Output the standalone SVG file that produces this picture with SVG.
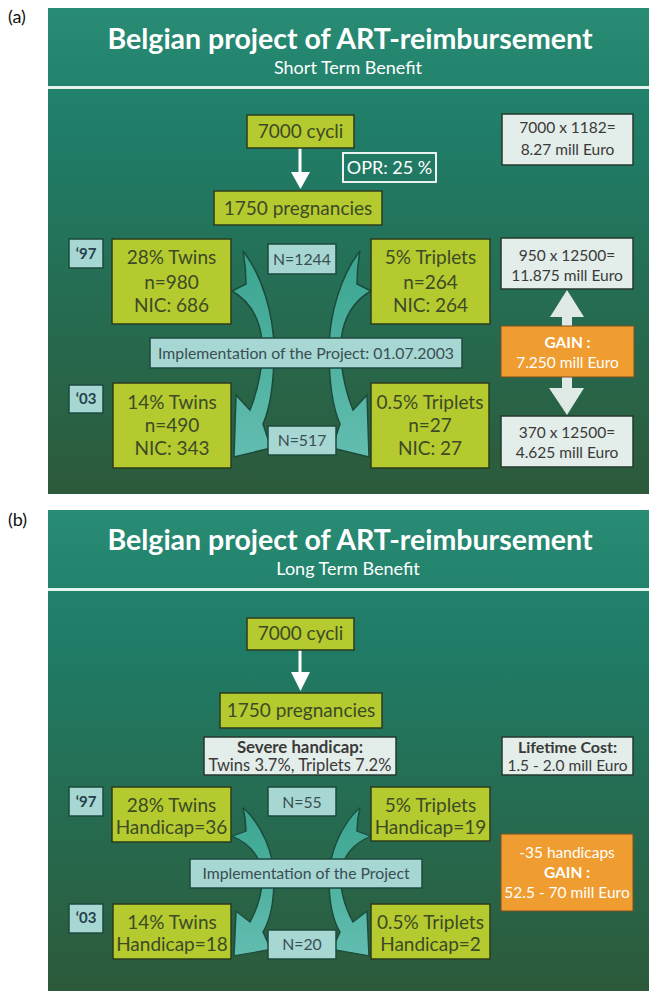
<svg xmlns="http://www.w3.org/2000/svg" width="649" height="991" viewBox="0 0 649 991">
<defs>
<linearGradient id="bgA" x1="0" y1="0" x2="0" y2="1">
<stop offset="0" stop-color="#298c74"/>
<stop offset="0.25" stop-color="#1f7d68"/>
<stop offset="1" stop-color="#2c5a3a"/>
</linearGradient>
<linearGradient id="arr" x1="0" y1="0" x2="0" y2="1">
<stop offset="0" stop-color="#3aa58f"/>
<stop offset="1" stop-color="#62bdb0"/>
</linearGradient>
<path id="curve" d="M243 251 C262 275 274 315 274 350 C274 385 270 408 263 424 L271 448 L234 457 L236 395 L250 410 C258 390 264 362 262 340 C259 315 248 300 232 291 L246 284 C246 272 245 262 243 251 Z"/>
</defs>
<style>
text{font-family:Lato,"Open Sans","Liberation Sans",sans-serif}
.title{font-weight:bold;font-size:28.5px;fill:#ffffff;text-anchor:middle}
.sub{font-size:18px;fill:#ffffff;text-anchor:middle}
.lbl{font-size:18px;fill:#111111}
.g rect{fill:#b4ca2f;stroke:#2b3b1c;stroke-width:1.5}
.g text{font-size:19px;fill:#3c4a26;text-anchor:middle}
.b rect{fill:#a6d7d2;stroke:#1d4a3e;stroke-width:1.5}
.b text{font-size:15.8px;fill:#3a4e52;text-anchor:middle}
.yr text{font-weight:bold;font-size:15px;fill:#263f4c}
.w rect{fill:#e3ede9;stroke:#26382e;stroke-width:1.5}
.w text{font-size:15.5px;fill:#3a3a3a;text-anchor:middle}
.w .bd{font-weight:bold;font-size:16px}
.w .big{font-size:16.5px}
.w .bigb{font-weight:bold;font-size:16.8px}
.o rect{fill:#ef9c30;stroke:#7a5020;stroke-width:1}
.o text{font-size:15.5px;fill:#ffffff;text-anchor:middle}
.o .bd{font-weight:bold}
.opr rect{fill:none;stroke:#ffffff;stroke-width:1.8}
.opr text{font-size:18px;fill:#ffffff;text-anchor:middle}
.cv{fill:url(#arr);stroke:#1d4a3a;stroke-width:1.5}
.wa{fill:#ffffff}
.la{fill:#dfeae6}
</style>
<rect width="649" height="991" fill="#ffffff"/>
<text class="lbl" x="8" y="23">(a)</text>
<text class="lbl" x="8" y="526">(b)</text>

<g id="panelA">
<rect x="48" y="8" width="601" height="486" fill="url(#bgA)"/>
<rect x="48" y="86" width="601" height="3" fill="#e6f3ec"/>
<text class="title" x="350" y="49">Belgian project of ART-reimbursement</text>
<text class="sub" x="348" y="74">Short Term Benefit</text>
</g>
<g id="panelB">
<rect x="48" y="510" width="601" height="481" fill="url(#bgA)"/>
<rect x="48" y="588" width="601" height="3" fill="#e6f3ec"/>
<text class="title" x="350" y="550">Belgian project of ART-reimbursement</text>
<text class="sub" x="348" y="575">Long Term Benefit</text>
</g>

<g id="connectors">
<use href="#curve" class="cv"/>
<use href="#curve" class="cv" transform="translate(603,0) scale(-1,1)"/>
<use href="#curve" class="cv" transform="translate(0,626.8) scale(1,0.72)"/>
<use href="#curve" class="cv" transform="translate(603,626.8) scale(-1,0.72)"/>
<rect class="wa" x="298.5" y="148" width="3" height="26"/>
<polygon class="wa" points="291,172 310,172 300.5,189"/>
<rect class="wa" x="298.5" y="650" width="3" height="24"/>
<polygon class="wa" points="291,672 310,672 300.5,691"/>
<rect class="la" x="562" y="316" width="10" height="11"/>
<polygon class="la" points="550,317 584,317 567,290"/>
<rect class="la" x="562" y="377" width="10" height="12"/>
<polygon class="la" points="549,388 584,388 567,415"/>
</g>

<g id="a-cycli" class="g"><rect x="247" y="115" width="107" height="33"/><text x="300.5" y="138">7000 cycli</text></g>
<g id="a-opr" class="opr"><rect x="343" y="153" width="93" height="29"/><text x="389.5" y="174">OPR: 25 %</text></g>
<g id="a-preg" class="g"><rect x="214" y="191" width="168" height="34"/><text x="298" y="215">1750 pregnancies</text></g>
<g id="a-cost1" class="w"><rect x="502" y="114" width="131" height="51"/><text x="567.5" y="133">7000 x 1182=</text><text x="567.5" y="155">8.27 mill Euro</text></g>
<g id="a-97" class="b yr"><rect x="69" y="239" width="34" height="29"/><text x="86" y="259">‘97</text></g>
<g id="a-twins97" class="g"><rect x="112" y="239" width="119" height="85"/><text x="171.5" y="264">28% Twins</text><text x="171.5" y="289">n=980</text><text x="171.5" y="312">NIC: 686</text></g>
<g id="a-n1244" class="b"><rect x="268" y="244" width="68" height="30"/><text x="302" y="265">N=1244</text></g>
<g id="a-trip97" class="g"><rect x="371" y="239" width="119" height="85"/><text x="430.5" y="264">5% Triplets</text><text x="430.5" y="289">n=264</text><text x="430.5" y="312">NIC: 264</text></g>
<g id="a-cost2" class="w"><rect x="501" y="238" width="132" height="51"/><text x="567" y="261">950 x 12500=</text><text x="567" y="281">11.875 mill Euro</text></g>
<g id="a-impl" class="b"><rect x="150" y="338" width="312" height="30"/><text x="306" y="358.5">Implementation of the Project: 01.07.2003</text></g>
<g id="a-gain" class="o"><rect x="501" y="326" width="133" height="51"/><text class="bd" x="567.5" y="348">GAIN :</text><text x="567.5" y="368">7.250 mill Euro</text></g>
<g id="a-03" class="b yr"><rect x="69" y="385" width="34" height="28"/><text x="86" y="404">‘03</text></g>
<g id="a-twins03" class="g"><rect x="113" y="383" width="118" height="85"/><text x="172" y="409">14% Twins</text><text x="172" y="432">n=490</text><text x="172" y="455">NIC: 343</text></g>
<g id="a-n517" class="b"><rect x="268" y="426" width="68" height="29"/><text x="302" y="446">N=517</text></g>
<g id="a-trip03" class="g"><rect x="371" y="383" width="118" height="85"/><text x="430" y="409">0.5% Triplets</text><text x="430" y="432">n=27</text><text x="430" y="455">NIC: 27</text></g>
<g id="a-cost3" class="w"><rect x="501" y="416" width="132" height="51"/><text x="567" y="438">370 x 12500=</text><text x="567" y="458">4.625 mill Euro</text></g>

<g id="b-cycli" class="g"><rect x="247" y="618" width="107" height="32"/><text x="300.5" y="640">7000 cycli</text></g>
<g id="b-preg" class="g"><rect x="220" y="693" width="162" height="35"/><text x="301" y="717">1750 pregnancies</text></g>
<g id="b-severe" class="w"><rect x="204" y="737" width="192" height="38"/><text class="bigb" x="300" y="753">Severe handicap:</text><text class="big" x="300" y="771">Twins 3.7%, Triplets 7.2%</text></g>
<g id="b-lifetime" class="w"><rect x="502" y="737" width="131" height="38"/><text class="bd" x="567.5" y="753">Lifetime Cost:</text><text x="567.5" y="771">1.5 - 2.0 mill Euro</text></g>
<g id="b-97" class="b yr"><rect x="69" y="787" width="34" height="29"/><text x="86" y="807">‘97</text></g>
<g id="b-twins97" class="g"><rect x="112" y="787" width="119" height="55"/><text x="171.5" y="812">28% Twins</text><text x="171.5" y="834">Handicap=36</text></g>
<g id="b-n55" class="b"><rect x="268" y="787" width="68" height="29"/><text x="302" y="807.5">N=55</text></g>
<g id="b-trip97" class="g"><rect x="371" y="787" width="119" height="54"/><text x="430.5" y="812">5% Triplets</text><text x="430.5" y="834">Handicap=19</text></g>
<g id="b-impl" class="b"><rect x="190" y="859" width="232" height="29"/><text x="306" y="879">Implementation of the Project</text></g>
<g id="b-gain" class="o"><rect x="501" y="834" width="132" height="77"/><text x="567" y="858">-35 handicaps</text><text class="bd" x="567" y="878">GAIN :</text><text x="567" y="898">52.5 - 70 mill Euro</text></g>
<g id="b-03" class="b yr"><rect x="69" y="904" width="34" height="29"/><text x="86" y="923">‘03</text></g>
<g id="b-twins03" class="g"><rect x="113" y="904" width="118" height="55"/><text x="172" y="929">14% Twins</text><text x="172" y="951">Handicap=18</text></g>
<g id="b-n20" class="b"><rect x="268" y="930" width="68" height="29"/><text x="302" y="950">N=20</text></g>
<g id="b-trip03" class="g"><rect x="371" y="904" width="119" height="55"/><text x="430.5" y="929">0.5% Triplets</text><text x="430.5" y="951">Handicap=2</text></g>
</svg>
